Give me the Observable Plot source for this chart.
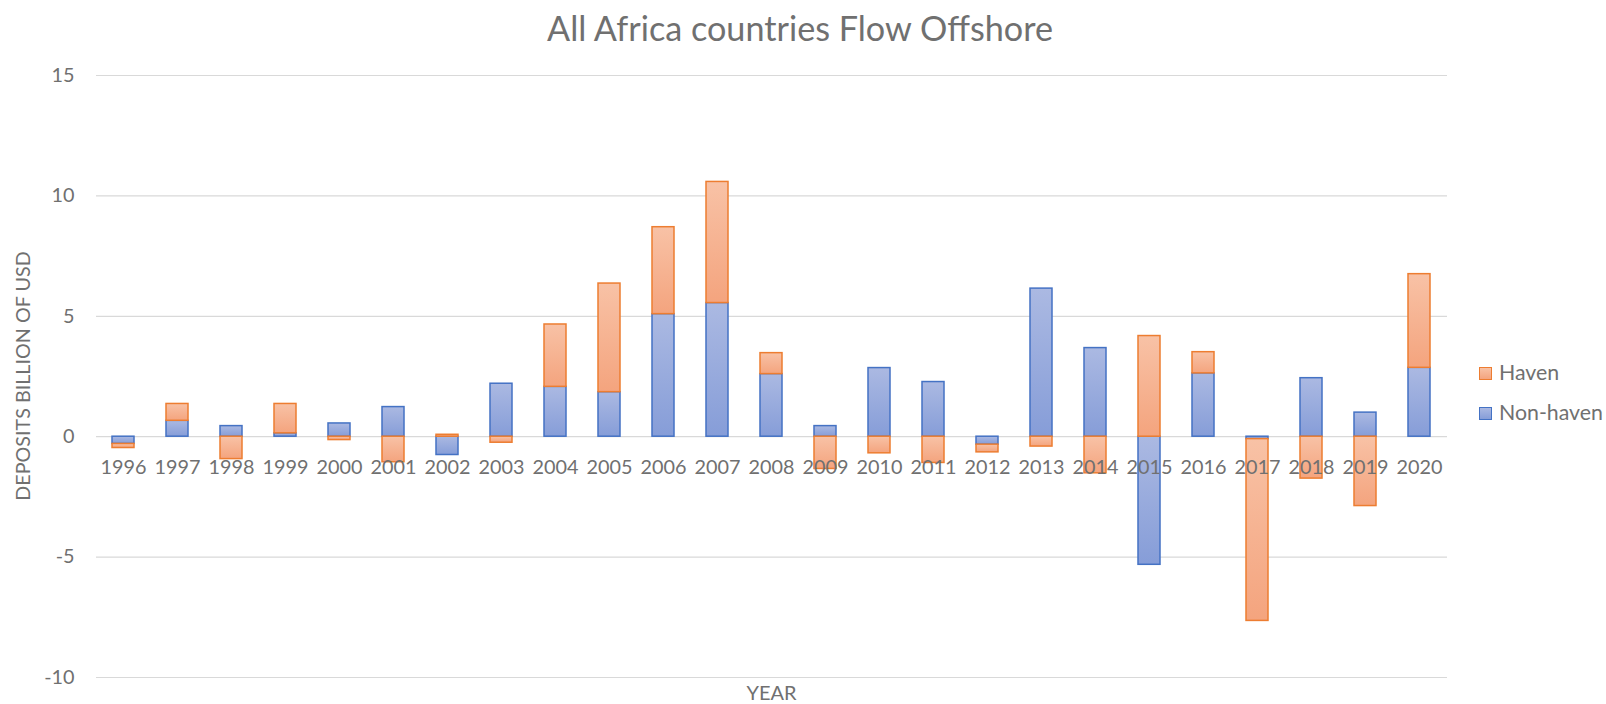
<!DOCTYPE html>
<html><head><meta charset="utf-8">
<script src="https://cdn.jsdelivr.net/npm/d3@7"></script>
<script src="https://cdn.jsdelivr.net/npm/@observablehq/plot@0.6"></script>
<style>
body{margin:0;background:#fff;}
#wrap{position:relative;width:1606px;height:704px;overflow:hidden;font-family:Lato, sans-serif;color:#707070;background:#fff}
#wrap svg{position:absolute;left:0;top:0}
.abs{position:absolute;white-space:nowrap;line-height:1}
.sw{position:absolute;width:11px;height:11px}
</style></head><body><div id="wrap"></div>
<script>
const years = [1996,1997,1998,1999,2000,2001,2002,2003,2004,2005,2006,2007,2008,2009,2010,2011,2012,2013,2014,2015,2016,2017,2018,2019,2020];
const nonHaven = [-0.30,0.66,0.44,0.14,0.55,1.23,-0.76,2.20,2.07,1.85,5.09,5.55,2.60,0.44,2.85,2.27,-0.33,6.15,3.68,-5.32,2.63,-0.10,2.43,1.00,2.86];
const haven = [-0.17,0.70,-0.93,1.22,-0.14,-1.06,0.08,-0.25,2.59,4.51,3.61,5.03,0.87,-1.34,-0.69,-1.09,-0.32,-0.41,-1.52,4.18,0.88,-7.55,-1.74,-2.88,3.89];
const yTicks = [-10,-5,0,5,10,15];
const legendSeries = ["Haven","Non-haven"];
const titleText = "All Africa countries Flow Offshore";
const yLabel = "DEPOSITS BILLION OF USD";
const xLabel = "YEAR";

const FONT = "Lato, sans-serif";
const TXT = "#707070";
const fillOf = {"Non-haven":"url(#gNH)", "Haven":"url(#gH)"};
const strokeOf = {"Non-haven":"#4472C4", "Haven":"#ED7D31"};

const rows = [];
years.forEach((yr,i)=>{
  rows.push({year: yr, series: "Non-haven", value: nonHaven[i]});
  rows.push({year: yr, series: "Haven", value: haven[i]});
});

const ctx = document.createElement("canvas").getContext("2d");
function fit(text, width){ ctx.font = `100px ${FONT}`; return 100*width/ctx.measureText(text).width; }
const tickFs = fit("1996", 46);

const svg = Plot.plot({
  width:1606, height:704, marginTop:75, marginBottom:27, marginLeft:96, marginRight:159,
  style:{fontFamily:FONT, fontSize: tickFs+"px", color:TXT, background:"white"},
  x:{type:"band", domain: years, paddingInner:0.59, paddingOuter:0.295, axis:null},
  y:{domain:[-10,15], axis:null},
  color:{type:"identity"},
  marks:[
    Plot.ruleY(yTicks, {stroke:"#d9d9d9", strokeWidth:1.2}),
    Plot.barY(rows, Plot.stackY({order:null}, {x:"year", y:"value", fill: d=>fillOf[d.series], stroke: d=>strokeOf[d.series], strokeWidth:1.5})),
    Plot.axisY(yTicks, {tickSize:0, tickPadding:22, fontSize:tickFs, color:TXT, label:null, tickFormat: d=>String(d)}),
    Plot.text(years, {x: d=>d, y: ()=>0, dy: 31, text: d=>String(d), fontSize: tickFs, fill: TXT})
  ]
});
const ns = "http://www.w3.org/2000/svg";
const defs = document.createElementNS(ns, "defs");
defs.innerHTML = `<linearGradient id="gNH" x1="0" y1="0" x2="0" y2="1"><stop offset="0" stop-color="#abb9e2"/><stop offset="1" stop-color="#869dd8"/></linearGradient>
<linearGradient id="gH" x1="0" y1="0" x2="0" y2="1"><stop offset="0" stop-color="#f8c2a6"/><stop offset="1" stop-color="#f4a47e"/></linearGradient>`;
svg.prepend(defs);
const wrap = document.getElementById("wrap");
wrap.appendChild(svg);

function addText(text, fs, x, y, extra){
  const d = document.createElement("div");
  d.className = "abs";
  d.textContent = text;
  d.style.fontSize = fs+"px";
  d.style.left = x+"px"; d.style.top = y+"px";
  d.style.transform = extra || "translate(-50%,-50%)";
  wrap.appendChild(d);
  return d;
}
addText(titleText, fit(titleText, 508), 800, 28);
addText(yLabel, fit(yLabel, 250), 22.5, 376, "translate(-50%,-50%) rotate(-90deg)");
addText(xLabel, fit(xLabel, 50), 771.5, 693);
const legFs = fit("Non-haven", 104);
const legY = [373, 413];
legendSeries.forEach((s,i)=>{
  const sw = document.createElement("div");
  sw.className = "sw";
  sw.style.left = "1479px"; sw.style.top = (legY[i]-6.5)+"px";
  sw.style.border = "1.5px solid "+strokeOf[s];
  sw.style.background = s==="Haven" ? "linear-gradient(#f8c2a6,#f4a47e)" : "linear-gradient(#abb9e2,#869dd8)";
  wrap.appendChild(sw);
  addText(s, legFs, 1499, legY[i], "translate(0,-50%)");
});
</script></body></html>
